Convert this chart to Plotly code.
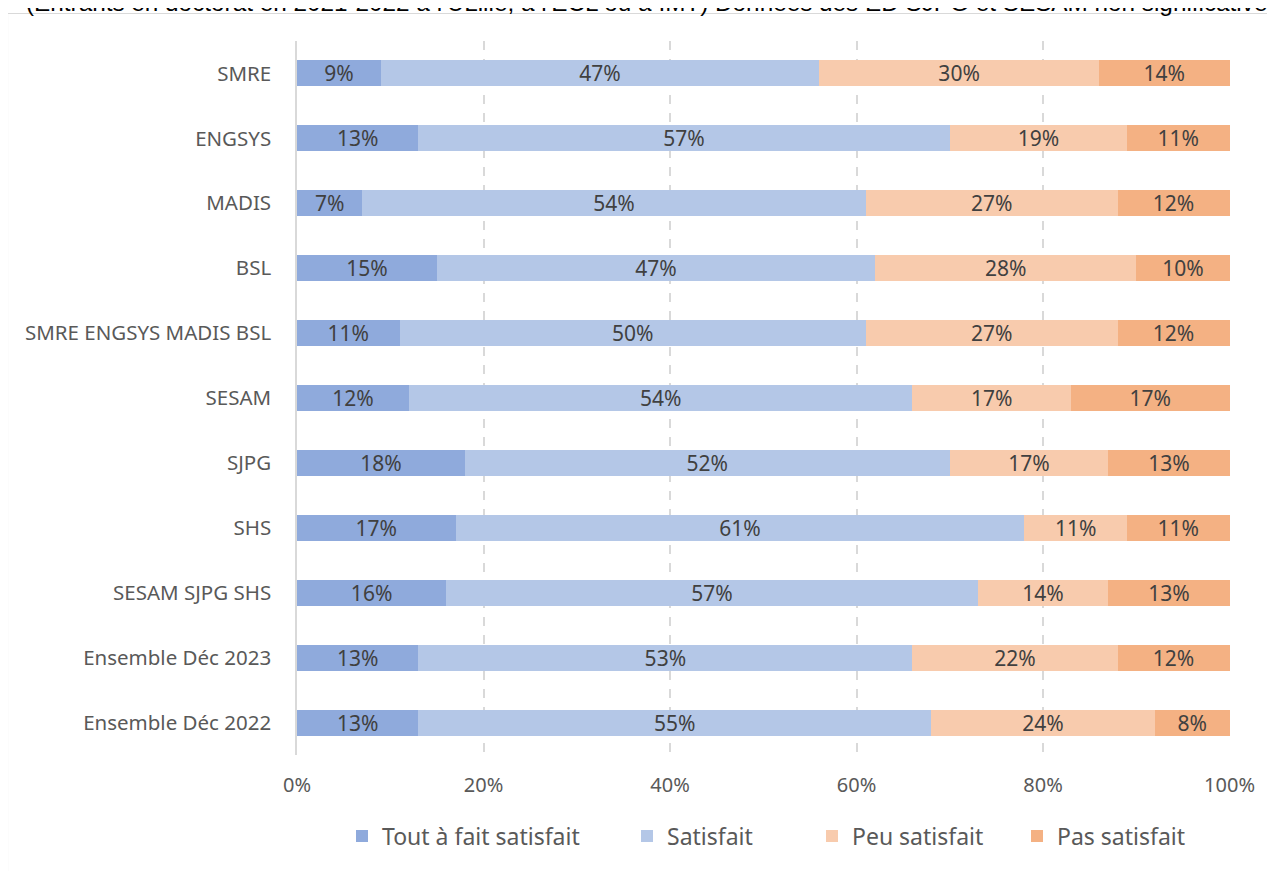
import plotly.graph_objects as go

categories = ["SMRE", "ENGSYS", "MADIS", "BSL", "SMRE ENGSYS MADIS BSL", "SESAM", "SJPG",
              "SHS", "SESAM SJPG SHS", "Ensemble Déc 2023", "Ensemble Déc 2022"]
tout_a_fait = [9, 13, 7, 15, 11, 12, 18, 17, 16, 13, 13]
satisfait = [47, 57, 54, 47, 50, 54, 52, 61, 57, 53, 55]
peu_satisfait = [30, 19, 27, 28, 27, 17, 17, 11, 14, 22, 24]
pas_satisfait = [14, 11, 12, 10, 12, 17, 13, 11, 13, 12, 8]
series_names = ["Tout à fait satisfait", "Satisfait", "Peu satisfait", "Pas satisfait"]
colors = ["#8FAADC", "#B4C7E7", "#F8CBAD", "#F4B183"]
x_ticks = [0, 0.2, 0.4, 0.6, 0.8, 1.0]
x_ticklabels = ["0%", "20%", "40%", "60%", "80%", "100%"]
title_text = "(Entrants en doctorat en 2021-2022 à l'ULille, à l'ECL ou à IMT) Données des ED SJPG et SESAM non significatives"

FONT = "Noto Sans"
OFF = 8  # page body margin
W, H = 1275, 871
# target page pixels
P_LEFT, P_RIGHT, P_TOP, P_BOTTOM = 297, 1230, 40.5, 755
L = P_LEFT - OFF
R = W - (P_RIGHT - OFF)
T = P_TOP - OFF
B = H - (P_BOTTOM - OFF)
pw, ph = W - L - R, H - T - B

def px_x(x):
    return (x - OFF - L) / pw

def px_y(y):
    return (H - B - (y - OFF)) / ph

legend_square_x = [358, 643, 828, 1033]
legend_keys = ["legend", "legend2", "legend3", "legend4"]

fig = go.Figure()
for i, (name, vals, col) in enumerate(zip(series_names, [tout_a_fait, satisfait, peu_satisfait, pas_satisfait], colors)):
    fig.add_trace(go.Bar(
        y=categories, x=[v / 100 for v in vals], name=name, orientation="h",
        marker=dict(color=col, line=dict(width=0)),
        text=[f"{v}%" for v in vals], textposition="inside", insidetextanchor="middle",
        textfont=dict(family=FONT, size=21, color="#404040"),
        constraintext="none", hoverinfo="skip", legend=legend_keys[i],
    ))

legend_common = dict(orientation="h", yanchor="middle", xanchor="left",
                     font=dict(size=23, color="#595959", family=FONT),
                     bgcolor="rgba(0,0,0,0)", itemwidth=30)
legends = {}
for i, key in enumerate(legend_keys):
    legends[key] = dict(legend_common, x=px_x(legend_square_x[i] - 16), y=px_y(836))

fig.update_layout(
    width=W, height=H, barmode="stack", bargap=0.6,
    margin=dict(l=L, r=R, t=T, b=B, pad=0),
    plot_bgcolor="white", paper_bgcolor="white",
    font=dict(family=FONT, size=20, color="#595959"),
    xaxis=dict(range=[0, 1.0005], tickvals=x_ticks, ticktext=x_ticklabels,
               showgrid=True, gridcolor="#D9D9D9", griddash="dash", gridwidth=1.5,
               zeroline=False, showline=False, ticks="", ticklabelstandoff=16,
               tickfont=dict(size=20, color="#595959")),
    yaxis=dict(autorange="reversed", showline=True, linecolor="#D9D9D9", linewidth=1.5,
               showgrid=False, ticks="", ticklabelstandoff=20,
               tickfont=dict(size=20.5, color="#595959")),
    showlegend=True,
    shapes=[dict(type="rect", xref="paper", yref="paper",
                 x0=px_x(7.5), x1=px_x(1300), y0=px_y(890), y1=px_y(13),
                 line=dict(color="#D9D9D9", width=1.2), fillcolor="rgba(0,0,0,0)", layer="below")],
    annotations=[dict(text=title_text, xref="paper", yref="paper", x=px_x(24), y=px_y(17),
                      xanchor="left", yanchor="bottom", showarrow=False,
                      font=dict(family="Liberation Sans", size=24.3, color="#000000"))],
    **legends,
)

fig.write_html("out.html")
